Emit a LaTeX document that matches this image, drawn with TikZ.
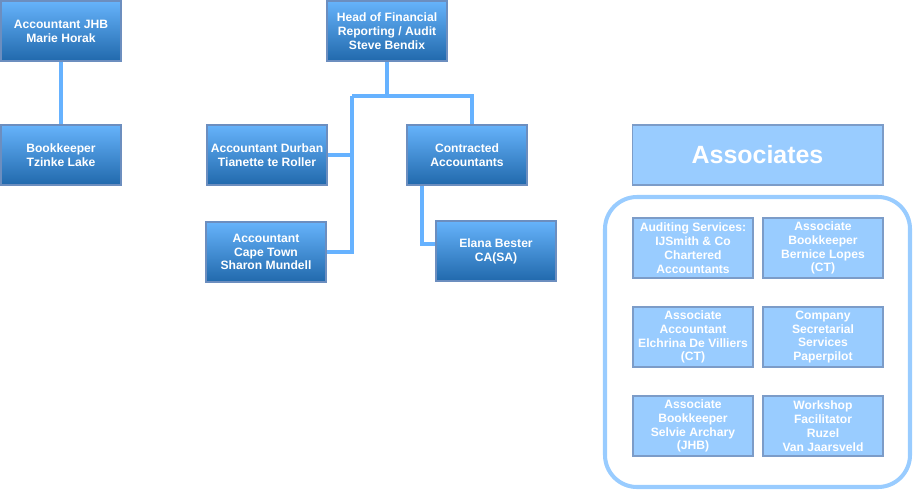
\documentclass[tikz,border=0pt]{standalone}
\usepackage{fontspec}
\setmainfont{Liberation Sans}
\usetikzlibrary{positioning}

\definecolor{boxtop}{HTML}{66B3FB}
\definecolor{boxbot}{HTML}{2169AC}
\definecolor{boxedge}{HTML}{6C8EBF}
\definecolor{assocfill}{HTML}{99CCFF}
\definecolor{assocedge}{HTML}{7C9CC8}
\definecolor{linkblue}{HTML}{66B2FF}

\begin{document}
\begin{tikzpicture}[x=0.02cm,y=-0.02cm,
		staff/.style={draw=boxedge, line width=0.6pt, top color=boxtop, bottom color=boxbot,
			minimum width=2.4cm, minimum height=1.2cm, inner sep=1pt, align=center,
			text=white, font=\fontsize{6.9}{7.9}\selectfont\bfseries},
		assoc/.style={draw=assocedge, line width=0.6pt, fill=assocfill,
			minimum width=2.4cm, minimum height=1.2cm, inner sep=1pt, align=center,
			text=white, font=\fontsize{6.9}{7.9}\selectfont\bfseries},
		link/.style={draw=linkblue, line width=2.3pt}]
		\useasboundingbox (0,0) rectangle (914,490);

		% left branch
		\node[staff] (jhb) at (61,31) {Accountant JHB\\Marie Horak};
		\node[staff] (bookkeeper) at (61,155) {Bookkeeper\\Tzinke Lake};
		\draw[link] (jhb) -- (bookkeeper);

		% head and team
		\node[staff] (head) at (387,31) {Head of Financial\\Reporting / Audit\\Steve Bendix};
		\node[staff] (durban) at (267,155) {Accountant Durban\\Tianette te Roller};
		\node[staff] (capetown) at (266,252) {Accountant\\Cape Town\\Sharon Mundell};
		\node[staff] (contracted) at (467,155) {Contracted\\Accountants};
		\node[staff] (elana) at (496,251) {Elana Bester\\CA(SA)};

		\coordinate (lbar) at (352,96);
		\coordinate (rbar) at (472,96);
		\coordinate (cbend) at (422,244);

		\draw[link] (head.south) -- (head.south |- lbar);
		\draw[link] (lbar) -- (rbar) -- (rbar |- contracted.north);
		\draw[link] (lbar) -- (lbar |- capetown.east) -- (capetown.east);
		\draw[link] (durban.east) -- (durban.east -| lbar);
		\draw[link] (contracted.south -| cbend) -- (cbend) -- (cbend -| elana.west);

		% associates
		\node[assoc, minimum width=5.02cm, font=\fontsize{14.2}{16}\selectfont\bfseries] (associates) at (757.5,155) {Associates};
		\draw[draw=assocfill, line width=2.3pt, rounded corners=0.64cm] (605,197) rectangle (910,487);

		\foreach \name/\x/\y/\label in {
			audit/693/248/{Auditing Services:\\IJSmith \& Co\\Chartered\\Accountants},
			lopes/823/248/{Associate\\Bookkeeper\\Bernice Lopes\\(CT)},
			villiers/693/337/{Associate\\Accountant\\Elchrina De Villiers\\(CT)},
			paperpilot/823/337/{Company\\Secretarial\\Services\\Paperpilot},
			archary/693/426/{Associate\\Bookkeeper\\Selvie Archary\\(JHB)},
			ruzel/823/426/{Workshop\\Facilitator\\Ruzel\\Van Jaarsveld}}
		{
			\node[assoc] (\name) at (\x,\y) {\label};
		}
	\end{tikzpicture}
\end{document}
